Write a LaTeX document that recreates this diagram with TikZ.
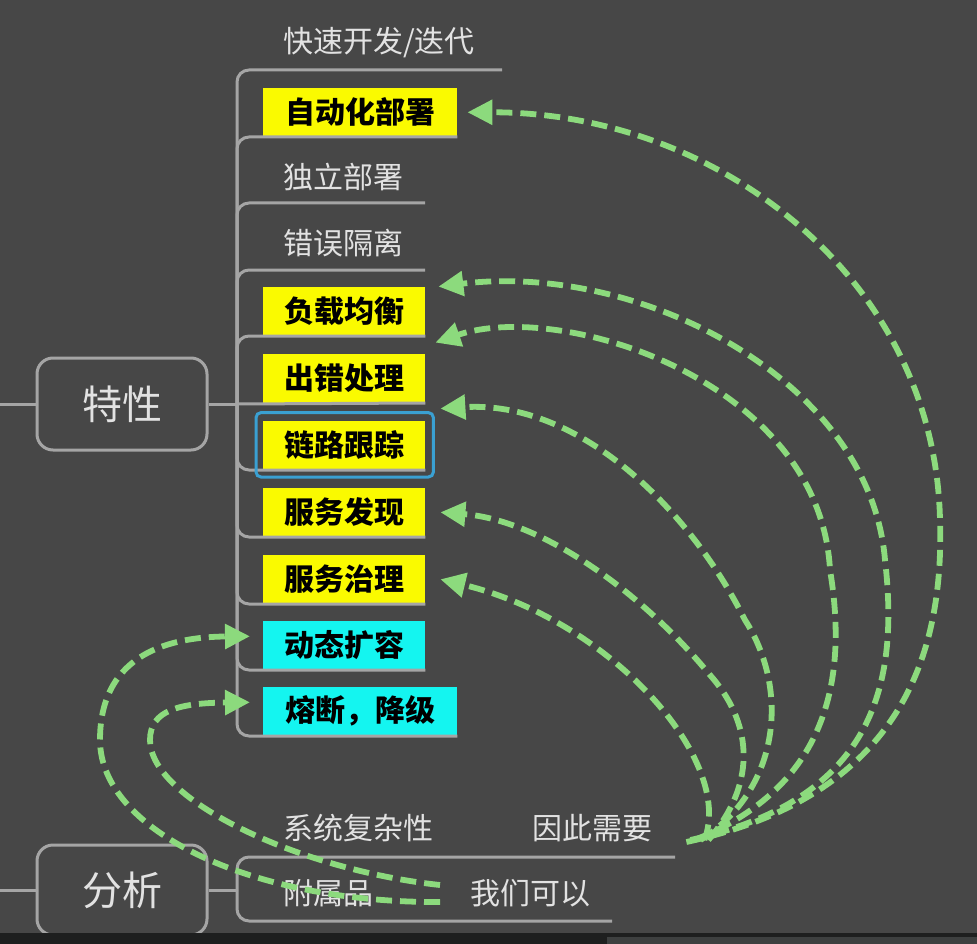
\documentclass[tikz,border=0pt]{standalone}
\usepackage{fontspec}
\setmainfont{Noto Sans CJK SC}
\usetikzlibrary{arrows.meta,calc}
\definecolor{bg}{RGB}{71,71,71}
\definecolor{gline}{RGB}{165,165,165}
\definecolor{gtext}{RGB}{226,226,226}
\definecolor{ylw}{RGB}{250,250,0}
\definecolor{cyn}{RGB}{20,245,240}
\definecolor{grn}{RGB}{140,218,125}
\definecolor{sel}{RGB}{58,160,210}
\definecolor{barA}{RGB}{30,31,31}
\definecolor{barB}{RGB}{62,64,64}
\begin{document}
\begin{tikzpicture}[x=1pt,y=-1pt,
  branch/.style={draw=gline,line width=3pt,rounded corners=12pt},
  topic/.style={draw=gline,line width=3pt,rounded corners=16pt,minimum width=170pt,minimum height=92pt,inner sep=0pt,text=gtext,font=\fontsize{40}{48}\selectfont},
  lbl/.style={anchor=west,inner sep=0pt,text=gtext,font=\fontsize{30}{34}\selectfont},
  ybox/.style={fill=ylw,anchor=south west,minimum height=49pt,inner sep=0pt,text=black,font=\fontsize{30}{34}\selectfont\bfseries},
  cbox/.style={ybox,fill=cyn},
  flow/.style={draw=grn,line width=5.8pt,dash pattern=on 16pt off 8pt,-{Triangle[length=25pt,width=24pt]}},
]
\useasboundingbox (0,0) rectangle (977,944);
\fill[bg] (0,0) rectangle (977,944);

% ---------- 特性 ----------
\node[topic] (tx) at (122,404) {特性};
\coordinate (c1) at (237,404);

\node[lbl] (n1) at (283,43) {快速开发/迭代};
\coordinate (e1) at (502,70);
\node[ybox,minimum width=194pt] (n2) at (263,137) {自动化部署};
\node[lbl] (n3) at (283,177) {独立部署};
\coordinate (e3) at (425,203);
\node[lbl] (n4) at (283,243) {错误隔离};
\coordinate (e4) at (425,270);
\node[ybox,minimum width=162pt] (n5) at (263,336) {负载均衡};
\node[ybox,minimum width=162pt] (n6) at (263,403) {出错处理};
\node[ybox,minimum width=162pt] (n7) at (263,470) {链路跟踪};
\node[ybox,minimum width=162pt] (n8) at (263,537) {服务发现};
\node[ybox,minimum width=162pt] (n9) at (263,604) {服务治理};
\node[cbox,minimum width=162pt] (n10) at (263,670) {动态扩容};
\node[cbox,minimum width=194pt] (n11) at (263,736) {熔断，降级};

\draw[branch] (0,404) -- (tx.west);
\draw[branch] (tx.east) -- (c1);
\draw[branch] (c1) |- (e1);
\draw[branch] (c1) |- (n2.south east);
\draw[branch] (c1) |- (e3);
\draw[branch] (c1) |- (e4);
\draw[branch] (c1) |- (n5.south east);
\draw[branch] (c1) -- (n6.south east);
\draw[branch] (c1) |- (n7.south east);
\draw[branch] (c1) |- (n8.south east);
\draw[branch] (c1) |- (n9.south east);
\draw[branch] (c1) |- (n10.south east);
\draw[branch] (c1) |- (n11.south east);

\draw[draw=sel,line width=3pt,rounded corners=5pt] ($(n7.south west)+(-7,7)$) rectangle ($(n7.north east)+(8,-8)$);

% ---------- 分析 ----------
\node[topic,minimum height=90pt] (fx) at (122,890) {分析};
\coordinate (c2) at (237,890);
\node[lbl] (xt) at (283,828) {系统复杂性};
\node[lbl] (yc) at (532,828) {因此需要};
\coordinate (e12) at (675,857);
\node[lbl] (fs) at (283,893) {附属品};
\node[lbl] (wm) at (470,893) {我们可以};
\coordinate (e13) at (612,921);

\draw[branch] (0,890) -- (fx.west);
\draw[branch] (fx.east) -- (c2);
\draw[branch] (c2) |- (e12);
\draw[branch] (c2) |- (e13);

% ---------- green dashed arrows ----------
\draw[flow] ($(yc.east)+(34,14)$) .. controls (880,800) and (945,680) .. (940,520)
   .. controls (935,280) and (720,112) .. ($(n2.east)+(10,0)$);
\draw[flow] ($(yc.east)+(38,12)$) .. controls (870,800) and (900,690) .. (885,560)
   .. controls (870,380) and (640,262) .. ($(n5.north east)+(13,0)$);
\draw[flow] ($(yc.east)+(42,12)$) .. controls (820,790) and (850,690) .. (830,570)
   .. controls (820,380) and (560,300) .. ($(n6.north east)+(10,-11)$);
\draw[flow] ($(yc.east)+(48,12)$) .. controls (780,790) and (790,690) .. (745,620)
   .. controls (690,510) and (580,400) .. ($(n7.north east)+(15,-12)$);
\draw[flow] ($(yc.east)+(56,12)$) .. controls (760,780) and (750,720) .. (710,675)
   .. controls (640,590) and (540,520) .. ($(n8.east)+(15,0)$);
\draw[flow] ($(yc.east)+(52,12)$) .. controls (735,760) and (610,620) .. ($(n9.east)+(15,0)$);

\draw[flow] ($(wm.west)+(-30,9)$) .. controls (250,903) and (100,830) .. (100,740)
   .. controls (100,660) and (160,637) .. ($(n10.west)+(-13,-9)$);
\draw[flow] ($(wm.west)+(-30,-8)$) .. controls (300,870) and (150,800) .. (150,740)
   .. controls (150,710) and (180,703) .. ($(n11.west)+(-13,-9)$);

% ---------- bottom bar ----------
\fill[barA] (0,933) rectangle (977,944);
\fill[barB] (607,937) rectangle (977,944);
\end{tikzpicture}
\end{document}
